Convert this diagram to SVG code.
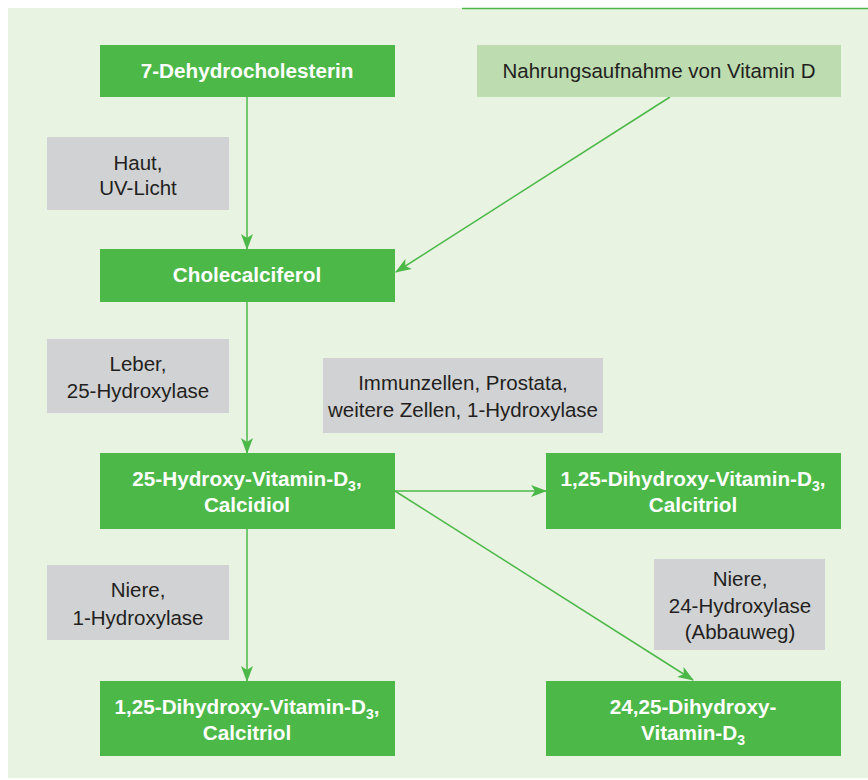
<svg xmlns="http://www.w3.org/2000/svg" width="868" height="780" viewBox="0 0 868 780">
<style>
.bg{fill:#e8f3e2}
.node{fill:#4cb848}
.lite{fill:#bddcb0}
.gray{fill:#d1d2d4}
.bt{font-family:"Liberation Sans",Arial,sans-serif;font-size:20.7px;font-weight:bold;fill:#ffffff;text-anchor:middle}
.rt{font-family:"Liberation Sans",Arial,sans-serif;font-size:20.5px;fill:#231f20;text-anchor:middle}
.sub{font-size:14px}
.edge{stroke:#4cb848;stroke-width:1.5;fill:none;marker-end:url(#arr)}
</style>
<defs>
<marker id="arr" viewBox="0 0 16 12" refX="15" refY="6" markerWidth="16" markerHeight="12" markerUnits="userSpaceOnUse" orient="auto">
<path d="M0,0 L16,6 L0,12 L4,6 Z" fill="#4cb848"/>
</marker>
</defs>
<rect class="bg" x="8" y="8" width="860" height="770"/>
<line x1="462" y1="8.5" x2="868" y2="8.5" stroke="#4cb848" stroke-width="1.5"/>

<g id="connectors">
<line class="edge" x1="247" y1="97" x2="247" y2="249"/>
<line class="edge" x1="670" y1="97" x2="396" y2="272"/>
<line class="edge" x1="247" y1="302" x2="247" y2="453"/>
<line class="edge" x1="247" y1="529" x2="247" y2="681"/>
<line class="edge" x1="395" y1="491" x2="546" y2="491"/>
<line class="edge" x1="395" y1="491" x2="693" y2="680"/>
</g>

<g id="n-7dhc">
<rect class="node" x="100" y="45" width="295" height="52"/>
<text class="bt" x="247" y="78">7-Dehydrocholesterin</text>
</g>
<g id="n-nahrung">
<rect class="lite" x="477" y="45" width="364" height="52"/>
<text class="rt" x="659" y="78">Nahrungsaufnahme von Vitamin D</text>
</g>
<g id="l-haut">
<rect class="gray" x="47" y="137" width="182" height="73"/>
<text class="rt" x="138" y="170">Haut,</text>
<text class="rt" x="138" y="195">UV-Licht</text>
</g>
<g id="n-chole">
<rect class="node" x="100" y="249" width="295" height="53"/>
<text class="bt" x="247" y="282">Cholecalciferol</text>
</g>
<g id="l-leber">
<rect class="gray" x="47" y="339" width="182" height="74"/>
<text class="rt" x="138" y="371">Leber,</text>
<text class="rt" x="138" y="398">25-Hydroxylase</text>
</g>
<g id="l-immun">
<rect class="gray" x="323" y="358" width="280" height="75"/>
<text class="rt" x="463" y="390">Immunzellen, Prostata,</text>
<text class="rt" x="463" y="417">weitere Zellen, 1-Hydroxylase</text>
</g>
<g id="n-calcidiol">
<rect class="node" x="100" y="453" width="295" height="76"/>
<text class="bt" x="247" y="486">25-Hydroxy-Vitamin-D<tspan class="sub" dy="5">3</tspan><tspan dy="-5">,</tspan></text>
<text class="bt" x="247" y="512">Calcidiol</text>
</g>
<g id="n-calcitriol-r">
<rect class="node" x="546" y="453" width="295" height="76"/>
<text class="bt" x="693" y="486">1,25-Dihydroxy-Vitamin-D<tspan class="sub" dy="5">3</tspan><tspan dy="-5">,</tspan></text>
<text class="bt" x="693" y="512">Calcitriol</text>
</g>
<g id="l-niere24">
<rect class="gray" x="654" y="559" width="171" height="91"/>
<text class="rt" x="740" y="586">Niere,</text>
<text class="rt" x="740" y="613">24-Hydroxylase</text>
<text class="rt" x="740" y="639">(Abbauweg)</text>
</g>
<g id="l-niere1">
<rect class="gray" x="47" y="565" width="182" height="75"/>
<text class="rt" x="138" y="597">Niere,</text>
<text class="rt" x="138" y="625">1-Hydroxylase</text>
</g>
<g id="n-calcitriol-l">
<rect class="node" x="100" y="681" width="295" height="75"/>
<text class="bt" x="247" y="714">1,25-Dihydroxy-Vitamin-D<tspan class="sub" dy="5">3</tspan><tspan dy="-5">,</tspan></text>
<text class="bt" x="247" y="740">Calcitriol</text>
</g>
<g id="n-2425">
<rect class="node" x="546" y="681" width="295" height="75"/>
<text class="bt" x="693" y="714">24,25-Dihydroxy-</text>
<text class="bt" x="693" y="740">Vitamin-D<tspan class="sub" dy="5">3</tspan></text>
</g>
</svg>
